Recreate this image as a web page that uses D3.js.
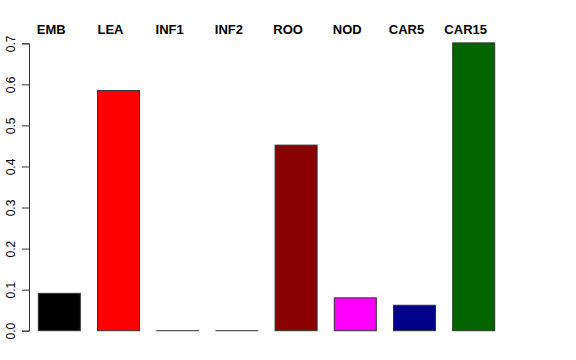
<!DOCTYPE html>
<html lang="en">
	<head>
		<meta charset="utf-8">
		<title>barplot</title>
		<script type="text/javascript" src="https://cdn.jsdelivr.net/npm/d3@7"></script>
		<style type="text/css">
			body { margin: 0; background: white; }
			text { font-family: "Liberation Sans", Arial, sans-serif; }
		</style>
	</head>
	<body>
		<script type="text/javascript">
			var categories = ["EMB", "LEA", "INF1", "INF2", "ROO", "NOD", "CAR5", "CAR15"]
			var values = [0.091, 0.585, 0, 0, 0.452, 0.080, 0.062, 0.701]
			var colors = ["#000000", "#ff0000", "#bebebe", "#bebebe", "#8b0000", "#ff00ff", "#00008b", "#006400"]
			var yticks = [0, 0.1, 0.2, 0.3, 0.4, 0.5, 0.6, 0.7]

			var w = 576, h = 360

			var svg = d3.select("body").append("svg").attr("width", w).attr("height", h)

			var xscale = d3.scaleBand()
				.domain(categories)
				.range([38.3, 494.7])
				.paddingInner(0.29)
				.paddingOuter(0)

			var yscale = d3.scaleLinear()
				.domain([0, 0.7])
				.range([330.7, 43.3])

			// bars (zero bars still show their border as a flat line)
			svg.selectAll("rect")
			.data(values)
			.enter()
			.append("rect")
			.attr("x", function(d, i) { return xscale(categories[i]) })
			.attr("y", function(d) { return yscale(d) })
			.attr("width", xscale.bandwidth())
			.attr("height", function(d) { return Math.max(yscale(0) - yscale(d), 0.01) })
			.attr("fill", function(d, i) { return colors[i] })
			.attr("stroke", "#333")
			.attr("stroke-width", 1)

			// labels on top, a bit left of the bar centre like the original
			svg.selectAll(".lab")
			.data(categories)
			.enter()
			.append("text")
			.attr("class", "lab")
			.attr("x", function(d) { return xscale(d) + xscale.bandwidth() / 2 - 8 })
			.attr("y", 34)
			.attr("text-anchor", "middle")
			.attr("font-size", "13px")
			.attr("font-weight", "bold")
			.text(function(d) { return d })

			// y axis, R style
			var yaxis = d3.axisLeft(yscale)
				.tickValues(yticks)
				.tickFormat(d3.format(".1f"))
				.tickSizeOuter(0)
				.tickSize(7)

			var g = svg.append("g")
				.attr("transform", "translate(29,0)")
				.call(yaxis)
			g.select(".domain").attr("stroke", "#333")
			g.selectAll(".tick line").attr("stroke", "#333")
			g.selectAll(".tick text")
				.attr("font-size", "12px")
				.attr("fill", "black")
				.attr("text-anchor", "middle")
				.attr("x", 0)
				.attr("y", 0)
				.attr("dy", null)
				.attr("transform", "translate(-14.5,0) rotate(-90)")
		</script>
	</body>
</html>
